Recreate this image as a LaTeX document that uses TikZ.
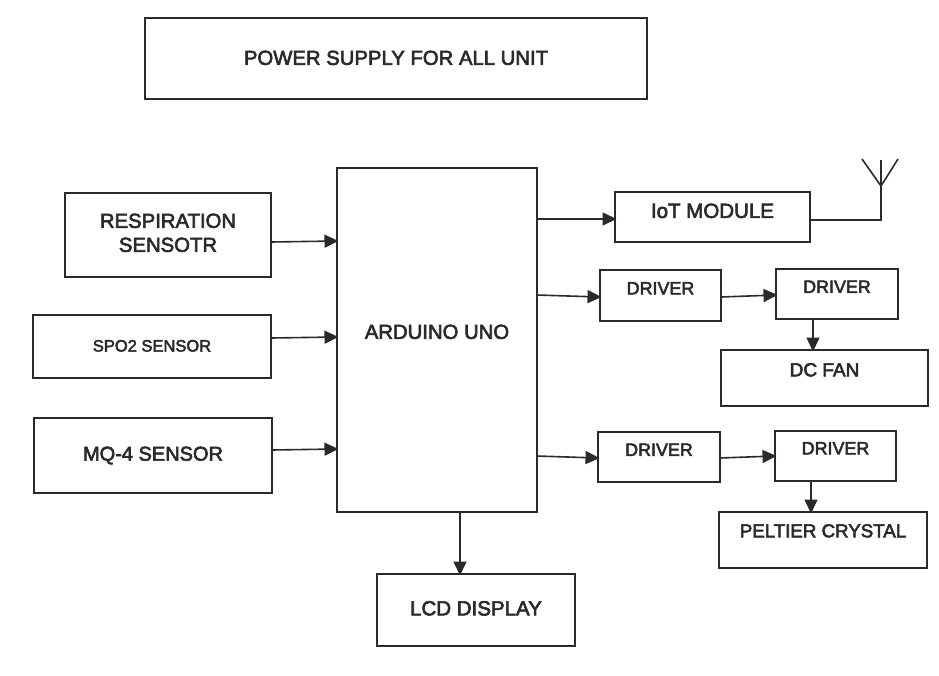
\documentclass[tikz,border=0pt]{standalone}
\usepackage{fontspec}
\setmainfont[FakeBold=3]{Liberation Sans}
\usetikzlibrary{arrows.meta}
\definecolor{ink}{HTML}{2A2A2A}
\tikzset{
  blk/.style={draw=ink,line width=1.6pt,inner sep=0pt,outer sep=0pt,text=ink,align=center},
  conn/.style={draw=ink,line width=1.6pt,shorten >=-1.5pt,-{Triangle[length=14pt,width=13pt]}},
  wire/.style={draw=ink,line width=1.6pt}
}
% name x1 y1 x2 y2 fontsize raise text
\newcommand{\bx}[8]{%
  \node[blk,minimum width=#4pt-#2pt,minimum height=#5pt-#3pt,anchor=north west,font=\fontsize{#6}{24}\selectfont] (#1) at (#2pt,-#3pt) {\raisebox{#7pt}{#8}};
}
\begin{document}
\begin{tikzpicture}[x=1pt,y=1pt]
\useasboundingbox (0,0) rectangle (939,-675);
\bx{power}{145}{18}{647}{99}{20.3}{1.5}{POWER SUPPLY FOR ALL UNIT}
\bx{resp}{65}{193}{271}{277}{20.3}{4}{\begin{tabular}{@{}c@{}}RESPIRATION\\SENSOTR\end{tabular}}
\bx{spo}{33}{315}{271}{378}{16.5}{1.5}{SPO2 SENSOR}
\bx{mq}{34}{418}{272}{493}{20}{1.5}{MQ-4 SENSOR}
\bx{ard}{337}{168}{537}{512}{20.3}{16.5}{ARDUINO UNO}
\bx{lcd}{377}{574}{575}{646}{20.5}{3.5}{LCD DISPLAY}
\bx{iot}{615}{192}{810}{242}{20.5}{12.5}{IoT MODULE}
\bx{d1}{600}{270}{721}{321}{17.9}{14.5}{DRIVER}
\bx{d2}{776}{269}{898}{319}{17.9}{14.5}{DRIVER}
\bx{fan}{721}{350}{928}{406}{19}{16.5}{DC FAN}
\bx{d3}{598}{432}{720}{482}{17.9}{14.5}{DRIVER}
\bx{d4}{775}{431}{896}{481}{17.9}{15.5}{DRIVER}
\bx{pel}{719}{512}{927}{568}{18.7}{18.5}{PELTIER CRYSTAL}
% inputs
\draw[conn] (resp.east|-0,-242) -- (ard.west|-0,-241);
\draw[conn] (spo.east|-0,-338) -- (ard.west|-0,-337);
\draw[conn] (mq.east|-0,-450) -- (ard.west|-0,-449);
% outputs
\draw[conn] (ard.east|-0,-219) -- (iot.west|-0,-219);
\draw[conn] (ard.east|-0,-295) -- (d1.west|-0,-297);
\draw[conn] (ard.east|-0,-456) -- (d3.west|-0,-458);
\draw[conn] (d1.east|-0,-297) -- (d2.west|-0,-295);
\draw[conn] (d3.east|-0,-458) -- (d4.west|-0,-456);
\draw[conn] (d2.south-|813,0) -- (fan.north-|813,0);
\draw[conn] (d4.south-|811,0) -- (pel.north-|811,0);
\draw[conn] (ard.south-|460,0) -- (lcd.north-|460,0);
% antenna
\coordinate (ant) at (881,-220);
\coordinate (anttop) at (881,-186);
\coordinate (antl) at (862,-159);
\coordinate (antr) at (898,-159);
\coordinate (antm) at (881,-160);
\draw[wire] (iot.east|-ant) -- (ant) -- (anttop) -- (antl);
\draw[wire] (anttop) -- (antr);
\draw[wire] (anttop) -- (antm);
\end{tikzpicture}
\end{document}
